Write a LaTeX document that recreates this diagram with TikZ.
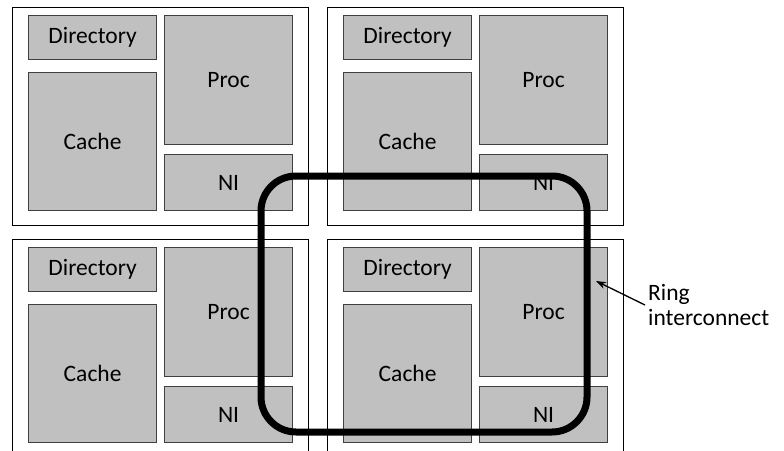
\documentclass[tikz,border=0pt]{standalone}
\usepackage{fontspec}
\setmainfont{Carlito}
\usepackage{tikz}
\usetikzlibrary{arrows.meta}
\definecolor{boxgray}{RGB}{192,192,192}
\definecolor{boxedge}{RGB}{64,64,64}
\newcommand{\widthtile}{296pt}
\newcommand{\heighttile}{218pt}
\newcommand{\widthpart}{128pt}
\newcommand{\partfont}{\fontsize{23.5}{25}\selectfont}
\tikzset{
    common/.style={anchor=north west, draw, rectangle, inner sep=0pt},
    tile/.style={common, minimum width=\widthtile, minimum height=\heighttile, line width=1pt},
    part/.style={common, fill=boxgray, draw=boxedge, line width=1.2pt, minimum width=\widthpart, font=\partfont},
    dirbox/.style={part, minimum height=44pt},
    cachebox/.style={part, minimum height=138pt},
    procbox/.style={part, minimum height=129pt},
    nibox/.style={part, minimum height=56pt},
    ring/.style={line width=7pt, rounded corners=35pt}
}

\begin{document}
\begin{tikzpicture}[x=1pt, y=-1pt]
                \useasboundingbox (0,0) rectangle (784,450);
                \clip (0,0) rectangle (784,450);

                \path
                    (12,7) node[tile] (tileA) {}
                    ++(16,8) node[dirbox] (dirA) {Directory}
                    ++(0,57) node[cachebox] (cacheA) {Cache}
                    ++(136,-57) node[procbox] (procA) {Proc}
                    ++(0,139) node[nibox] (niA) {NI};

                \path
                    (327,7) node[tile] (tileB) {}
                    ++(16,8) node[dirbox] (dirB) {Directory}
                    ++(0,57) node[cachebox] (cacheB) {Cache}
                    ++(136,-57) node[procbox] (procB) {Proc}
                    ++(0,139) node[nibox] (niB) {NI};

                \path
                    (12,239) node[tile] (tileC) {}
                    ++(16,8) node[dirbox] (dirC) {Directory}
                    ++(0,57) node[cachebox] (cacheC) {Cache}
                    ++(136,-57) node[procbox] (procC) {Proc}
                    ++(0,139) node[nibox] (niC) {NI};

                \path
                    (327,239) node[tile] (tileD) {}
                    ++(16,8) node[dirbox] (dirD) {Directory}
                    ++(0,57) node[cachebox] (cacheD) {Cache}
                    ++(136,-57) node[procbox] (procD) {Proc}
                    ++(0,139) node[nibox] (niD) {NI};

                % the ring runs over the four NI corners
                \coordinate (ring-nw) at (261,176);
                \coordinate (ring-se) at (587,432);
                \draw[ring] (ring-nw) rectangle (ring-se);

                \node[anchor=west, align=left, inner sep=3pt, font=\partfont] (ringlabel) at (645,305) {Ring\\interconnect};
                \coordinate (ringpoint) at (596,281);
                \draw[-{Stealth[length=10pt, width=7pt]}, line width=1.3pt] (ringlabel.west) -- (ringpoint);
\end{tikzpicture}
\end{document}
